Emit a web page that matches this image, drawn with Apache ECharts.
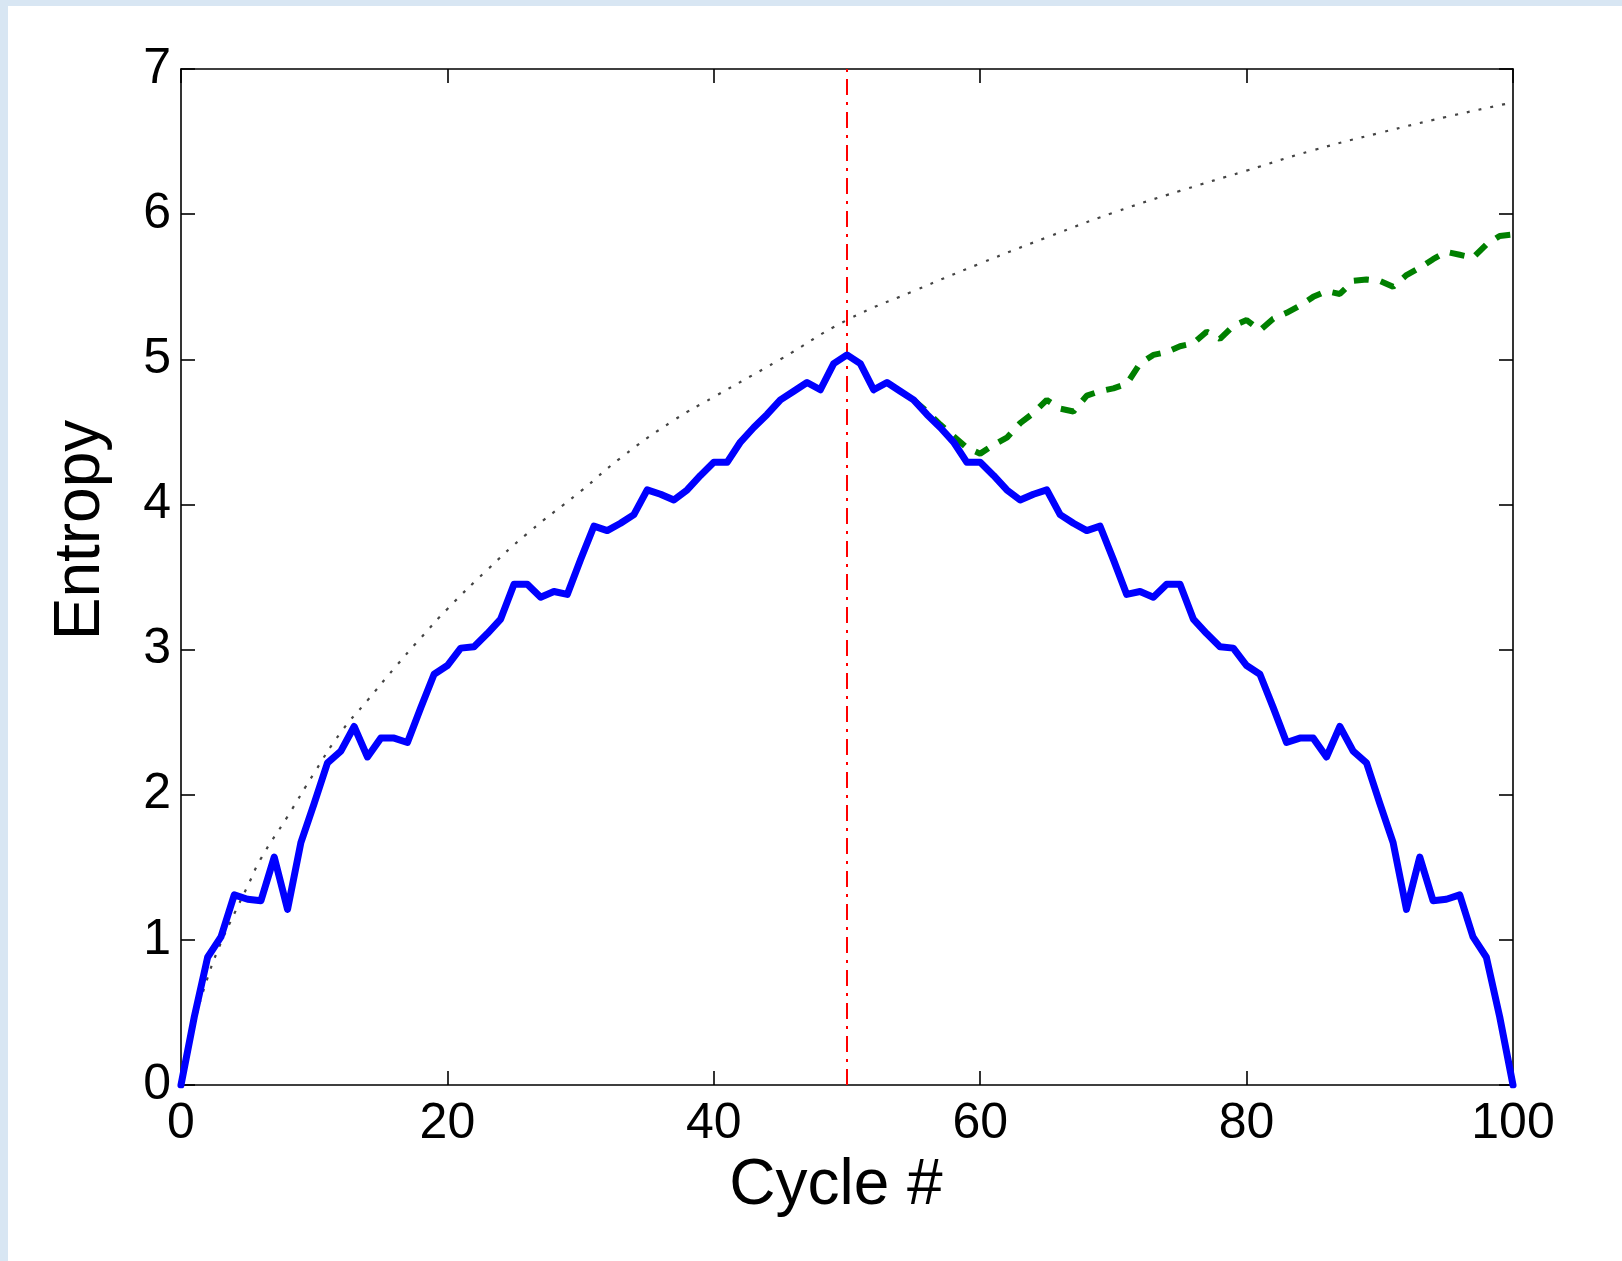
<!DOCTYPE html>
<html>
<head>
<meta charset="utf-8">
<script src="https://cdn.jsdelivr.net/npm/echarts@6/dist/echarts.min.js"></script>
<style>
html,body{margin:0;padding:0;background:#fff;}
#c{width:1622px;height:1261px;}
</style>
</head>
<body>
<div id="c"></div>
<script>
// ---- data ----
const blueY = [0,0.47,0.88,1.02,1.31,1.28,1.27,1.57,1.21,1.67,
1.94,2.22,2.30,2.47,2.26,2.39,2.39,2.36,2.60,2.83,
2.89,3.01,3.02,3.11,3.21,3.45,3.45,3.36,3.40,3.38,
3.62,3.85,3.82,3.87,3.93,4.10,4.07,4.03,4.10,4.20,
4.29,4.29,4.43,4.53,4.62,4.72,4.78,4.84,4.79,4.97,
5.03,
4.97,4.79,4.84,4.78,4.72,4.62,4.53,4.43,4.29,4.29,
4.20,4.10,4.03,4.07,4.10,3.93,3.87,3.82,3.85,3.62,
3.38,3.40,3.36,3.45,3.45,3.21,3.11,3.02,3.01,2.89,
2.83,2.60,2.36,2.39,2.39,2.26,2.47,2.30,2.22,1.94,
1.67,1.21,1.57,1.27,1.28,1.31,1.02,0.88,0.47,0];

const greenX = [55,56,57,58,59,60,61,62,63,64,65,66,67,68,69,70,71,72,73,74,75,76,77,78,79,80,
81,82,83,84,85,86,87,88,89,90,91,92,93,94,95,96,97,98,99,100];
const greenY = [4.72,4.64,4.55,4.47,4.39,4.35,4.41,4.46,4.56,4.63,4.72,4.66,4.64,4.75,4.78,4.80,4.83,4.97,5.03,5.05,5.09,5.11,5.19,5.14,5.23,5.27,
5.20,5.28,5.32,5.37,5.43,5.47,5.45,5.54,5.55,5.54,5.50,5.58,5.63,5.69,5.74,5.72,5.70,5.79,5.85,5.86];

const dotX = [0,1,2,3,4,5,6,8,10,12,14,16,18,20,23,26,30,33,37,40,45,50,55,60,65,70,75,80,85,90,95,100];
const dotY = [0,0.42,0.74,0.98,1.18,1.37,1.56,1.85,2.15,2.43,2.65,2.87,3.08,3.28,3.55,3.80,4.09,4.32,4.58,4.74,5.00,5.27,5.47,5.66,5.84,6.01,6.16,6.30,6.44,6.56,6.67,6.77];

const redX = [50,50];
const redY = [0,7];

const xTicks = {min:0,max:100,interval:20};
const yTicks = {min:0,max:7,interval:1};

// ---- chart ----
const FONT = '"Liberation Sans", Arial, Helvetica, sans-serif';
const pair = (xs, ys) => xs.map((x,i)=>[x, ys[i]]);
const blueData = blueY.map((v,i)=>[i, v]);

const axisLineStyle = {show:true, onZero:false, lineStyle:{color:'#000', width:1.6}};
const tickStyle = {show:true, inside:true, length:14, lineStyle:{color:'#000', width:1.6}};

const chart = echarts.init(document.getElementById('c'), null, {renderer:'canvas'});
chart.setOption({
  backgroundColor:'#ffffff',
  animation:false,
  graphic:[
    {type:'rect', left:0, top:0, z:-10, shape:{width:8, height:1261}, style:{fill:'#d8e6f3'}},
    {type:'rect', left:0, top:0, z:-10, shape:{width:1622, height:6}, style:{fill:'#d8e6f3'}}
  ],
  grid:{left:181, right:109, top:69, bottom:176, containLabel:false},
  xAxis:[
    {type:'value', position:'bottom', min:xTicks.min, max:xTicks.max, interval:xTicks.interval,
     axisLine:axisLineStyle, axisTick:tickStyle, splitLine:{show:false},
     axisLabel:{fontSize:50, color:'#000', fontFamily:FONT, margin:14},
     name:'Cycle #', nameLocation:'middle', nameGap:47,
     nameTextStyle:{fontSize:64, color:'#000', fontFamily:FONT, padding:[0,22,0,0]}},
    {type:'value', position:'top', min:xTicks.min, max:xTicks.max, interval:xTicks.interval,
     axisLine:axisLineStyle, axisTick:tickStyle, splitLine:{show:false}, axisLabel:{show:false}}
  ],
  yAxis:[
    {type:'value', position:'left', min:yTicks.min, max:yTicks.max, interval:yTicks.interval,
     axisLine:axisLineStyle, axisTick:tickStyle, splitLine:{show:false},
     axisLabel:{fontSize:50, color:'#000', fontFamily:FONT, margin:10},
     name:'Entropy', nameLocation:'middle', nameGap:68,
     nameTextStyle:{fontSize:64, color:'#000', fontFamily:FONT, padding:[0,0,0,94]}},
    {type:'value', position:'right', min:yTicks.min, max:yTicks.max, interval:yTicks.interval,
     axisLine:axisLineStyle, axisTick:tickStyle, splitLine:{show:false}, axisLabel:{show:false}}
  ],
  series:[
    {type:'line', name:'bound', data:pair(dotX, dotY), smooth:0.5, showSymbol:false, z:2,
     lineStyle:{color:'#444', width:2.2, type:[3,9]}},
    {type:'line', name:'mid', data:pair(redX, redY), showSymbol:false, z:3,
     lineStyle:{color:'#ff0000', width:2, type:[16,7,3,7]}},
    {type:'line', name:'green', data:pair(greenX, greenY), showSymbol:false, z:4,
     lineStyle:{color:'#008000', width:6, type:[15,12], cap:'butt'}},
    {type:'line', name:'blue', data:blueData, showSymbol:false, z:5,
     lineStyle:{color:'#0000ff', width:7, join:'round', cap:'round'}}
  ]
});
</script>
</body>
</html>
